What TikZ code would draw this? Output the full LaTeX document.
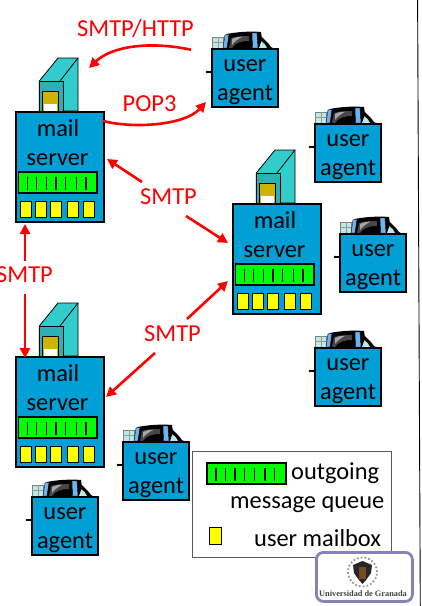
\documentclass[tikz,border=0pt]{standalone}
\usepackage{fontspec}
\setmainfont{Carlito}
\usetikzlibrary{arrows.meta}
\definecolor{boxblue}{HTML}{009FD6}
\definecolor{teal1}{HTML}{33CCCC}
\definecolor{teal2}{HTML}{2BB0B4}
\definecolor{gold}{HTML}{CCB400}
\definecolor{logoline}{HTML}{8585B5}
\definecolor{boxyellow}{HTML}{FFFF00}
\definecolor{qgreen}{HTML}{00FF00}
\definecolor{paleteal}{HTML}{BDE8E6}
\definecolor{sideblue}{HTML}{6FB4F2}
\tikzset{
  bluebox/.style={draw=black,line width=1.7pt,fill=boxblue,anchor=north west,inner sep=0pt},
  word/.style={font=\fontsize{24.4}{24}\selectfont,inner sep=0pt,anchor=base,text=black},
  redword/.style={font=\fontsize{24.4}{24}\selectfont,inner sep=0pt,anchor=base west,text=red},
  redarrow/.style={draw=red,line width=2.6pt,-{Triangle[length=10pt,width=10pt]}},
  queuebar/.style={draw=black,line width=1.5pt,fill=qgreen},
  tick/.style={draw=black,line width=1.4pt},
  mailbox/.style={draw=black,line width=0.9pt,fill=boxyellow}
}
\newcommand{\queueticks}[1]{%
  \foreach \tx in {9,18.4,28,37.7,47.4,58,67.7}{\draw[tick] (\tx,5) -- (\tx,18);}}
\newcommand{\mailsrv}[3]{%
 \begin{scope}[shift={(#2,#3)}]
  \fill[teal1,draw=black,line width=0.8pt] (24.3,-30) -- (43,-53) -- (63,-53) -- (63,0) -- (24.3,0) -- cycle;
  \draw[black,line width=0.8pt] (45,-30) -- (63,-53);
  \fill[teal2,draw=black,line width=0.8pt] (24.3,-30) rectangle (48,0);
  \draw[black,line width=0.8pt] (24.3,-30) -- (45,-30);
  \fill[gold,draw=black,line width=0.8pt] (27.3,-20) rectangle (43.7,0);
  \fill[white] (29,-7) rectangle (42.3,0);
  \node[bluebox,minimum width=88pt,minimum height=110pt] (#1) at (0,0) {};
  \node[word] (#1m) at (43,25) {mail};
  \node[word] (#1s) at (42.5,54.5) {server};
  \begin{scope}[shift={(3.3,61)}]
   \draw[queuebar] (0,0) rectangle (78.7,21);
   \queueticks{}
  \end{scope}
  \foreach \a/\b in {5.3/16.7,20.7/31.7,35.3/46.3,52/63.3,68.3/79.7}{\draw[mailbox] (\a,90) rectangle (\b,106);}
 \end{scope}}
\newcommand{\useragt}[3]{%
 \begin{scope}[shift={(#2,#3)}]
  \fill[paleteal,draw=black!50,line width=0.4pt] (1,-11) rectangle (12,0);
  \draw[black!40,line width=0.4pt] (1,-6) -- (12,-6) (7,-11) -- (7,0);
  \fill[black] (48,-13) -- (52,-10) -- (57,-5) -- (60,-1) -- (62,0) -- (54,0) -- (50,-6) -- (47,-10) -- cycle;
  \fill[paleteal] (50,-7) .. controls (53,-5) and (55,-3) .. (56,0) -- (49,0) -- cycle;
  \fill[black] (16,-14) .. controls (25,-16) and (40,-17) .. (50,-16) -- (51,-9) -- (48,0) -- (15,0) -- cycle;
  \fill[black!72] (20,-10) .. controls (26,-12) and (32,-12) .. (38,-12) -- (38,-7) .. controls (30,-7) and (24,-5) .. (21,0) -- (18,0) -- cycle;
  \fill[black!35] (21,-9) .. controls (24,-11) and (27,-11) .. (31,-11) .. controls (27,-9) and (23,-6) .. (21,-3) -- cycle;
  \fill[sideblue,draw=black,line width=0.4pt] (14,-13) -- (18,-14) -- (16,0) -- (12,0) -- cycle;
  \fill[sideblue,draw=black,line width=0.4pt] (41,-15) -- (46,-15) -- (47,0) -- (41.5,0) -- cycle;
  \fill[black] (-4,24) circle (1.4pt);
  \fill[black] (-4,22.8) rectangle (0,25.2);
  \node[bluebox,minimum width=66pt,minimum height=58pt] (#1) at (0,0) {};
  \node[word] (#1u) at (34,23.7) {user};
  \node[word] (#1a) at (34,52.7) {agent};
 \end{scope}}
\begin{document}
\begin{tikzpicture}[x=1pt,y=-1pt]
\useasboundingbox (0,0) rectangle (421,606);
\fill[white] (0,0) rectangle (421,606);
\draw[black,line width=0.9pt] (417.6,0) -- (420.3,606);
\node[draw=black!65,line width=1pt,fill=white,anchor=north west,inner sep=0pt,minimum width=199pt,minimum height=106pt] (legend) at (192,451) {};
\begin{scope}[shift={(207,463)}]
 \draw[queuebar] (0,0) rectangle (79,21);
 \queueticks{}
\end{scope}
\node[redword,text=black] (lout) at (291,479) {outgoing};
\node[redword,text=black] (lmsg) at (230,508) {message queue};
\draw[mailbox] (209,527) rectangle (221,544);
\node[redword,text=black] (lbox) at (254,546) {user mailbox};
\node[draw=logoline,line width=2.8pt,rounded corners=7pt,fill=white,anchor=north west,inner sep=0pt,minimum width=96pt,minimum height=49pt] (logo) at (315,551) {};
\node[circle,draw=black!40,dotted,line width=1.8pt,minimum size=29pt,inner sep=0pt] (seal) at (362.5,572) {};
\fill[black!85] (362.5,561) -- (372,565) -- (371,573) -- (366,580) -- (362.5,584) -- (359,580) -- (354,573) -- (353,565) -- cycle;
\fill[brown!60!black] (359,567) rectangle (366,579);
\node[inner sep=0pt,anchor=base,font=\fontspec{Liberation Serif}\bfseries\fontsize{8.3}{9}\selectfont,text=black!75] (ugr) at (363,596) {Universidad de Granada};
\mailsrv{srvA}{15}{111}
\mailsrv{srvB}{232}{203}
\mailsrv{srvC}{15}{356}
\useragt{uaA}{211}{48}
\useragt{uaB}{314}{123}
\useragt{uaC}{339}{233}
\useragt{uaD}{314}{347}
\useragt{uaE}{122}{441}
\useragt{uaF}{31}{496}
\node[redword] (l1) at (77,36) {SMTP/HTTP};
\node[redword] (l2) at (122.5,111) {POP3};
\node[redword] (l3) at (140,204) {SMTP};
\node[redword] (l4) at (-4,282) {SMTP};
\node[redword] (l5) at (144,341) {SMTP};
\coordinate (a1s) at (191,49.7); \coordinate (a1e) at (89,68);
\coordinate (a2s) at (103,121); \coordinate (a2e) at (206,102);
\coordinate (a3s) at (142,182); \coordinate (a3e) at (107,159);
\coordinate (a4s) at (186,216); \coordinate (a4e) at (228,243);
\coordinate (a5s) at (25,261); \coordinate (a5e) at (25,224);
\coordinate (a6s) at (25,294); \coordinate (a6e) at (25,358);
\coordinate (a7s) at (155,353); \coordinate (a7e) at (106,397);
\coordinate (a8s) at (187,319); \coordinate (a8e) at (228,281);
\draw[redarrow] (a1s) .. controls (150,41) and (112,46) .. (a1e);
\draw[redarrow] (a2s) .. controls (135,129) and (185,125) .. (a2e);
\draw[redarrow] (a3s) -- (a3e);
\draw[redarrow] (a4s) -- (a4e);
\draw[redarrow] (a5s) -- (a5e);
\draw[redarrow] (a6s) -- (a6e);
\draw[redarrow] (a7s) -- (a7e);
\draw[redarrow] (a8s) -- (a8e);
\end{tikzpicture}
\end{document}
